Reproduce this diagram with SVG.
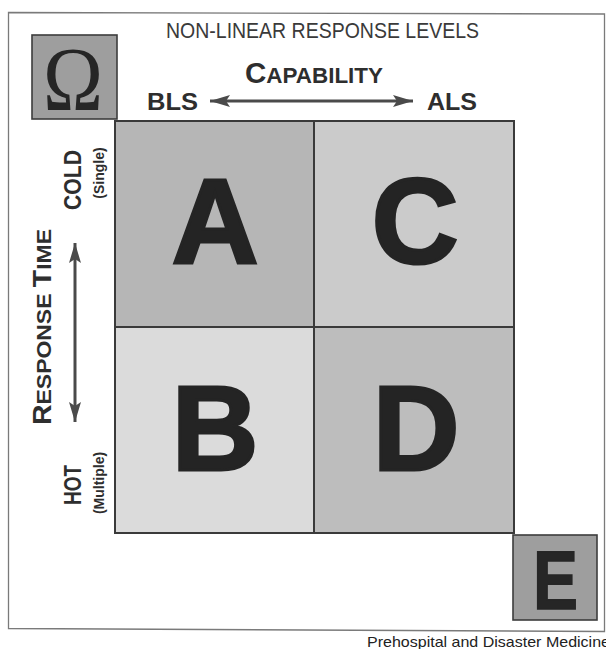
<svg xmlns="http://www.w3.org/2000/svg" width="606" height="649" viewBox="0 0 606 649">
<style>
  .frame{fill:none;stroke:#7a7a7a;stroke-width:1.3}
  .cell{stroke:#3a3a3a;stroke-width:2}
  .big{font-family:"Liberation Sans",Arial,sans-serif;font-weight:bold;font-size:120px;fill:#242424;stroke:#242424;stroke-width:3;text-anchor:middle}
  .lab{font-family:"Liberation Sans",Arial,sans-serif;font-weight:bold;fill:#2e2e2e}
  .title{font-family:"Liberation Sans",Arial,sans-serif;font-size:22px;fill:#3a3a3a}
  .arrow{stroke:#4a4a4a;stroke-width:3}
  .corner{fill:#9e9e9e;stroke:#3c3c3c;stroke-width:1.6}
</style>
<defs>
  <marker id="ah" viewBox="0 0 20 12" refX="20" refY="6" markerWidth="20" markerHeight="12" markerUnits="userSpaceOnUse" orient="auto-start-reverse">
    <path d="M0,0 L20,6 L0,12 L4,6 z" fill="#4a4a4a"/>
  </marker>
</defs>
<rect width="606" height="649" fill="#ffffff"/>
<polygon class="frame" points="8.5,12.5 604.5,14 604.5,631.5 8.5,628.5"/>

<g id="title">
  <text class="title" x="166" y="38" textLength="313" lengthAdjust="spacingAndGlyphs">NON-LINEAR RESPONSE LEVELS</text>
</g>

<g id="omega">
  <rect class="corner" x="32" y="35" width="85" height="84"/>
  <text x="73" y="110" font-family="'Liberation Serif','Times New Roman',serif" font-size="90" fill="#262626" text-anchor="middle" textLength="60" lengthAdjust="spacingAndGlyphs">Ω</text>
</g>

<g id="capability">
  <text class="lab" x="245" y="83" textLength="138" lengthAdjust="spacingAndGlyphs"><tspan font-size="29">C</tspan><tspan font-size="22">APABILITY</tspan></text>
  <text class="lab" x="147" y="110" font-size="24" textLength="51" lengthAdjust="spacingAndGlyphs">BLS</text>
  <text class="lab" x="427" y="110" font-size="24" textLength="50" lengthAdjust="spacingAndGlyphs">ALS</text>
</g>

<g id="response-time">
  <text class="lab" transform="translate(51,327) rotate(-90)" text-anchor="middle" textLength="196" lengthAdjust="spacingAndGlyphs"><tspan font-size="26">R</tspan><tspan font-size="21">ESPONSE </tspan><tspan font-size="26">T</tspan><tspan font-size="21">IME</tspan></text>
  <text class="lab" transform="translate(81,180) rotate(-90)" text-anchor="middle" font-size="24" textLength="60" lengthAdjust="spacingAndGlyphs">COLD</text>
  <text class="lab" transform="translate(104,173) rotate(-90)" text-anchor="middle" font-size="14">(Single)</text>
  <text class="lab" transform="translate(81,485) rotate(-90)" text-anchor="middle" font-size="24" textLength="40" lengthAdjust="spacingAndGlyphs">HOT</text>
  <text class="lab" transform="translate(104,483) rotate(-90)" text-anchor="middle" font-size="14">(Multiple)</text>
</g>

<g id="quadrant-A">
  <rect class="cell" x="115" y="121" width="199" height="206" fill="#b6b6b6"/>
  <text class="big" x="215" y="263">A</text>
</g>
<g id="quadrant-C">
  <rect class="cell" x="314" y="121" width="200" height="206" fill="#cbcbcb"/>
  <text class="big" x="415" y="263">C</text>
</g>
<g id="quadrant-B">
  <rect class="cell" x="115" y="327" width="199" height="206" fill="#dbdbdb"/>
  <text class="big" x="215" y="470">B</text>
</g>
<g id="quadrant-D">
  <rect class="cell" x="314" y="327" width="200" height="206" fill="#bdbdbd"/>
  <text class="big" x="416" y="470">D</text>
</g>

<g id="E">
  <rect class="corner" x="513" y="535" width="84" height="85" fill="#a0a0a0"/>
  <text x="555.5" y="609" font-family="'Liberation Sans',Arial,sans-serif" font-weight="bold" font-size="84" fill="#262626" stroke="#262626" stroke-width="1.5" text-anchor="middle" textLength="45" lengthAdjust="spacingAndGlyphs">E</text>
</g>

<g id="connectors">
  <line class="arrow" x1="210" y1="101" x2="413" y2="101" marker-start="url(#ah)" marker-end="url(#ah)"/>
  <line class="arrow" x1="75" y1="243" x2="75" y2="422" marker-start="url(#ah)" marker-end="url(#ah)"/>
</g>

<g id="footer">
  <text x="367" y="647" font-family="'Liberation Sans',Arial,sans-serif" font-size="15" fill="#222" textLength="243" lengthAdjust="spacingAndGlyphs">Prehospital and Disaster Medicine</text>
</g>
</svg>
